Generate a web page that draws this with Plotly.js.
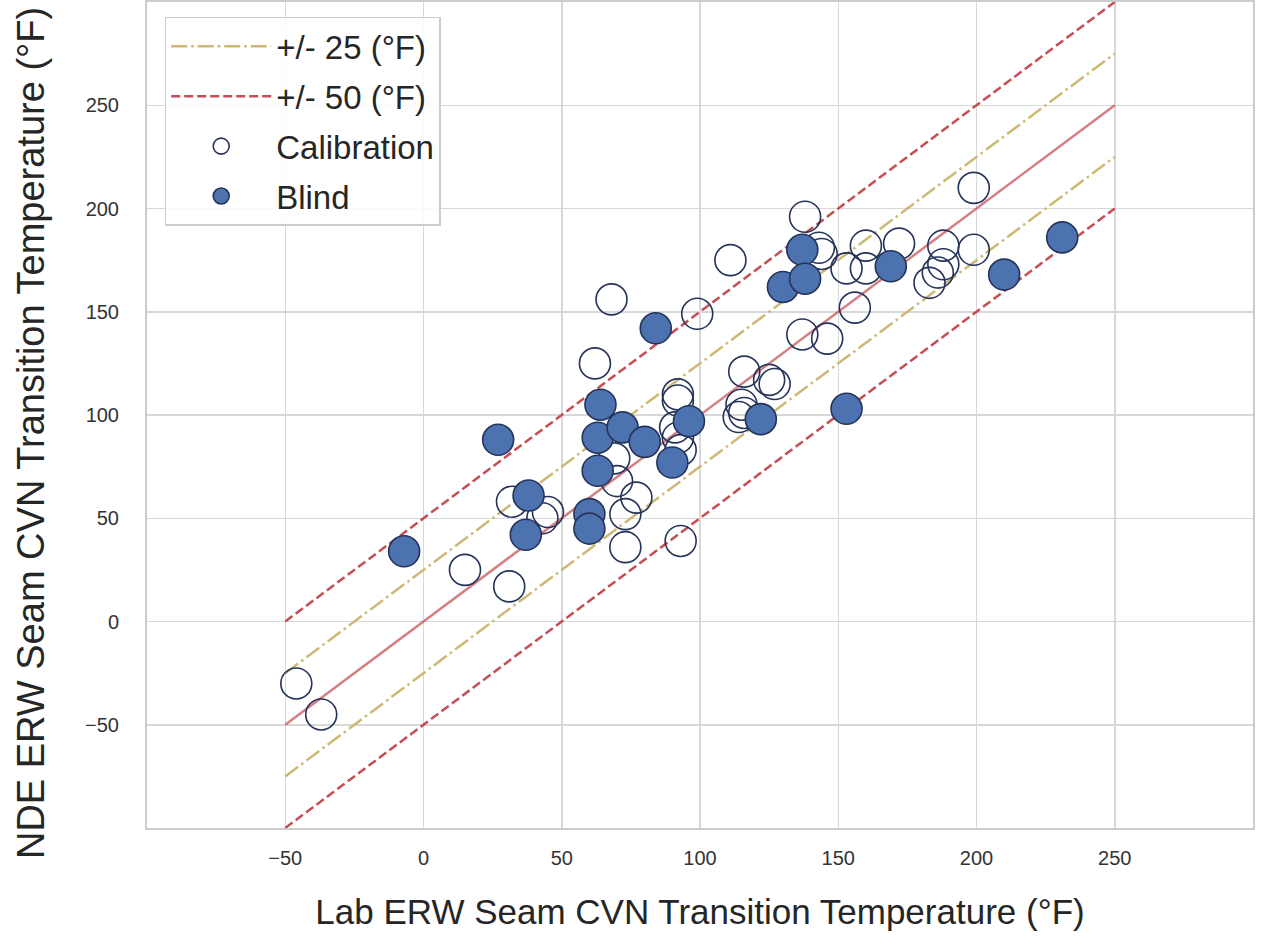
<!DOCTYPE html>
<html>
<head>
<meta charset="utf-8">
<script src="https://cdn.plot.ly/plotly-3.0.1.min.js"></script>
<style>html,body{margin:0;padding:0;background:#fff;}#chart{width:1269px;height:936px;}</style>
</head>
<body>
<div id="chart"></div>
<script>
// Reference band endpoints (lab temperature range of the guide lines)
const bandX = [-50, 250];
const band25 = 25;
const band50 = 50;

// Calibration points: lab (x) vs NDE (y), °F
const calibLab = [-46, -37, 15, 31, 32, 43, 45, 62, 68, 69, 70, 77, 73, 73, 93, 92, 92, 91, 92, 93, 99, 111, 116, 125, 127, 115, 116, 114, 137, 146, 156, 138, 143, 144, 153, 160, 160, 172, 188, 188, 186, 183, 199, 199];
const calibNDE = [-30, -45, 25, 17, 58, 50, 53, 125, 156, 79, 68, 60, 52, 36, 39, 110, 107, 94, 89, 83, 149, 175, 121, 117, 115, 105, 101, 99, 139, 137, 152, 196, 181, 178, 171, 182, 171, 183, 182, 173, 169, 164, 180, 210];

// Blind points
const blindLab = [-7, 27, 38, 37, 60, 60, 63, 63, 64, 72, 80, 84, 90, 96, 122, 130, 137, 138, 153, 169, 210, 231];
const blindNDE = [34, 88, 61, 42, 52, 45, 73, 89, 105, 94, 87, 142, 77, 97, 98, 162, 180, 166, 103, 172, 168, 186];

const xTitle = 'Lab ERW Seam CVN Transition Temperature (°F)';
const yTitle = 'NDE ERW Seam CVN Transition Temperature (°F)';

function bandLines(off) {
  return {
    x: [bandX[0], bandX[1], null, bandX[0], bandX[1]],
    y: [bandX[0] + off, bandX[1] + off, null, bandX[0] - off, bandX[1] - off]
  };
}
const b25 = bandLines(band25);
const b50 = bandLines(band50);

const edge = '#26335a';
const traces = [
  {x: bandX, y: bandX, mode: 'lines', showlegend: false, hoverinfo: 'skip',
   line: {color: 'rgba(196,78,82,0.72)', width: 2.5}},
  {x: b25.x, y: b25.y, mode: 'lines', name: '+/- 25 (°F)', legendgroup: 'a',
   line: {color: '#ccb974', width: 2.5, dash: '16px,4px,2.5px,4px'}},
  {x: b50.x, y: b50.y, mode: 'lines', name: '+/- 50 (°F)', legendgroup: 'b',
   line: {color: '#c44e52', width: 2.5, dash: '9px,4px'}},
  {x: calibLab, y: calibNDE, mode: 'markers', name: 'Calibration', legendgroup: 'c',
   marker: {size: 31, color: 'rgba(255,255,255,0)', line: {color: edge, width: 1.6}}},
  {x: blindLab, y: blindNDE, mode: 'markers', name: 'Blind', legendgroup: 'd',
   marker: {size: 31, color: '#4c72b0', line: {color: edge, width: 1.6}}}
];

const fontFam = 'Arial, Liberation Sans, sans-serif';
const axisCommon = {
  range: [-100, 300],
  tickvals: [-50, 0, 50, 100, 150, 200, 250],
  ticktext: ['\u221250', '0', '50', '100', '150', '200', '250'],
  showgrid: true, gridcolor: '#d8d8d8', gridwidth: 1.5,
  zeroline: false,
  showline: true, linecolor: '#cccccc', linewidth: 2, mirror: true,
  ticks: 'outside', tickcolor: 'rgba(0,0,0,0)',
  tickfont: {family: fontFam, size: 20, color: '#333333'}
};

const layout = {
  width: 1269, height: 936,
  margin: {l: 147, r: 16, t: 2, b: 108},
  paper_bgcolor: '#ffffff', plot_bgcolor: '#ffffff',
  font: {family: fontFam, color: '#262626'},
  xaxis: Object.assign({}, axisCommon, {
    ticklen: 11,
    title: {text: xTitle, font: {size: 35, color: '#262626'}, standoff: 31}
  }),
  yaxis: Object.assign({}, axisCommon, {
    ticklen: 22
  }),
  annotations: [{
    text: yTitle, textangle: -90, showarrow: false,
    xref: 'paper', yref: 'paper', x: -0.105, y: 0.478,
    xanchor: 'center', yanchor: 'middle',
    font: {family: fontFam, size: 38, color: '#262626'}
  }],
  legend: {
    x: 0.016, y: 0.982, xanchor: 'left', yanchor: 'top',
    bgcolor: 'rgba(255,255,255,0.85)', bordercolor: '#cccccc', borderwidth: 1.5,
    font: {size: 33, color: '#262626'},
    tracegroupgap: 4, itemwidth: 100
  },
  showlegend: true
};

Plotly.newPlot('chart', traces, layout, {displayModeBar: false, staticPlot: true});
</script>
</body>
</html>
